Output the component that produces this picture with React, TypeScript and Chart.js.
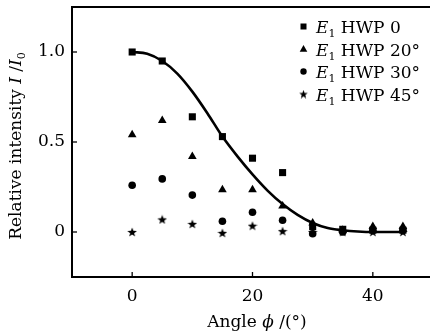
import React, { useEffect, useRef } from 'react';
import { Chart, registerables } from 'chart.js';

Chart.register(...registerables);

// ---- data ----
const angles = [0, 5, 10, 15, 20, 25, 30, 35, 40, 45];
const hwp0 = [1.0, 0.95, 0.64, 0.53, 0.41, 0.33, 0.03, 0.015, 0.01, 0.01];
const hwp20 = [0.54, 0.62, 0.42, 0.235, 0.235, 0.145, 0.05, 0.01, 0.03, 0.03];
const hwp30 = [0.26, 0.295, 0.205, 0.06, 0.11, 0.065, -0.01, 0.0, 0.01, 0.01];
const hwp45 = [0.0, 0.07, 0.045, -0.005, 0.035, 0.005, 0.0, 0.0, 0.0, 0.0];
const fitAngles = [0, 2.5, 5, 7.5, 10, 12.5, 15, 17.5, 20, 22.5, 25, 27.5, 30, 32.5, 35, 37.5, 40, 42.5, 45];
const fitValues = [1.0, 0.99, 0.95, 0.88, 0.78, 0.66, 0.53, 0.42, 0.32, 0.23, 0.155, 0.095, 0.05, 0.022, 0.01, 0.003, 0.0, 0.0, 0.0];
const legendLabels = ['HWP 0', 'HWP 20°', 'HWP 30°', 'HWP 45°'];
const xTicks = [0, 20, 40];
const yTicks = [0, 0.5, 1.0];

const FONT = "'DejaVu Serif'";

function makeStar(size: number) {
  const c = document.createElement('canvas');
  c.width = size;
  c.height = size;
  const ctx = c.getContext('2d')!;
  const cx = size / 2, cy = size / 2 + 0.5;
  const R = size / 2, r = R * 0.42;
  ctx.beginPath();
  for (let i = 0; i < 10; i++) {
    const rad = i % 2 === 0 ? R : r;
    const a = -Math.PI / 2 + (i * Math.PI) / 5;
    const px = cx + rad * Math.cos(a), py = cy + rad * Math.sin(a);
    if (i === 0) ctx.moveTo(px, py); else ctx.lineTo(px, py);
  }
  ctx.closePath();
  ctx.fillStyle = '#000';
  ctx.fill();
  return c;
}

function drawSegments(ctx: CanvasRenderingContext2D, segs: { t: string; f: string; dy?: number }[], x: number, y: number, align: 'left' | 'center') {
  let total = 0;
  for (const s of segs) { ctx.font = s.f; total += ctx.measureText(s.t).width; }
  let cx = align === 'center' ? x - total / 2 : x;
  ctx.textAlign = 'left';
  ctx.textBaseline = 'alphabetic';
  for (const s of segs) {
    ctx.font = s.f;
    ctx.fillText(s.t, cx, y + (s.dy || 0));
    cx += ctx.measureText(s.t).width;
  }
}

export default function App() {
  const ref = useRef<HTMLCanvasElement | null>(null);
  useEffect(() => {
    const canvas = ref.current!;
    const star = makeStar(10);
    const legendStar = makeStar(9);
    const norm = `17px ${FONT}`;
    const ital = `italic 17px ${FONT}`;
    const sub = `11px ${FONT}`;

    const decor = {
      id: 'decor',
      afterDraw(chart: any) {
        const ctx = chart.ctx as CanvasRenderingContext2D;
        const { left, right, top, bottom } = chart.chartArea;
        const xs = chart.scales.x, ys = chart.scales.y;
        ctx.save();
        ctx.strokeStyle = '#000';
        ctx.fillStyle = '#000';
        // top frame line
        ctx.lineWidth = 2;
        ctx.beginPath();
        ctx.moveTo(left - 1, top);
        ctx.lineTo(right + 2, top);
        ctx.stroke();
        // inward ticks
        ctx.lineWidth = 1.3;
        for (const v of xTicks) {
          const px = xs.getPixelForValue(v);
          ctx.beginPath(); ctx.moveTo(px, bottom); ctx.lineTo(px, bottom - 5); ctx.stroke();
        }
        for (const v of yTicks) {
          const py = ys.getPixelForValue(v);
          ctx.beginPath(); ctx.moveTo(left, py); ctx.lineTo(left + 5, py); ctx.stroke();
        }
        // x title
        drawSegments(ctx, [
          { t: 'Angle ', f: norm },
          { t: 'ϕ', f: ital },
          { t: ' /(°)', f: norm },
        ], 257, 326.5, 'center');
        // y title
        ctx.save();
        ctx.translate(20.5, 146);
        ctx.rotate(-Math.PI / 2);
        drawSegments(ctx, [
          { t: 'Relative intensity ', f: norm },
          { t: 'I', f: ital },
          { t: ' /', f: norm },
          { t: 'I', f: ital },
          { t: '0', f: sub, dy: 4 },
        ], 0, 0, 'center');
        ctx.restore();
        // legend
        const baselines = [33, 55.5, 78, 100.5];
        const mx = 303.5, tx = 316;
        baselines.forEach((b, i) => {
          const my = b - 6.5;
          ctx.beginPath();
          if (i === 0) {
            ctx.fillRect(mx - 3, my - 3, 6, 6);
          } else if (i === 1) {
            ctx.moveTo(mx, my - 4); ctx.lineTo(mx + 3.8, my + 2.7); ctx.lineTo(mx - 3.8, my + 2.7); ctx.closePath(); ctx.fill();
          } else if (i === 2) {
            ctx.arc(mx, my, 3.2, 0, Math.PI * 2); ctx.fill();
          } else {
            ctx.drawImage(legendStar, mx - 4.5, my - 4.5);
          }
          drawSegments(ctx, [
            { t: 'E', f: ital },
            { t: '1', f: sub, dy: 4 },
            { t: ' ' + legendLabels[i], f: norm },
          ], tx, b, 'left');
        });
        ctx.restore();
      },
    };

    const pts = (ys: number[]) => angles.map((a, i) => ({ x: a, y: ys[i] }));
    const chart = new Chart(canvas, {
      type: 'scatter',
      data: {
        datasets: [
          {
            label: 'fit',
            data: fitAngles.map((a, i) => ({ x: a, y: fitValues[i] })),
            showLine: true,
            pointRadius: 0,
            borderColor: '#000',
            borderWidth: 2.6,
            cubicInterpolationMode: 'monotone',
          } as any,
          { label: 'E1 HWP 0', data: pts(hwp0), pointStyle: 'rect', pointRadius: 5, backgroundColor: '#000', borderWidth: 0 },
          { label: 'E1 HWP 20°', data: pts(hwp20), pointStyle: 'triangle', pointRadius: 5, backgroundColor: '#000', borderWidth: 0 },
          { label: 'E1 HWP 30°', data: pts(hwp30), pointStyle: 'circle', pointRadius: 3.8, backgroundColor: '#000', borderWidth: 0 },
          { label: 'E1 HWP 45°', data: pts(hwp45), pointStyle: star as any, pointRadius: 5, backgroundColor: '#000', borderWidth: 0 },
        ],
      },
      options: {
        responsive: false,
        animation: false,
        layout: { padding: { top: 7, right: 7, left: 0, bottom: 0 } },
        plugins: { legend: { display: false }, tooltip: { enabled: false } },
        scales: {
          x: {
            type: 'linear',
            min: -10,
            max: 50,
            grid: { display: false, drawTicks: false },
            border: { display: true, color: '#000', width: 2 },
            afterBuildTicks: (s: any) => { s.ticks = xTicks.map((v) => ({ value: v })); },
            afterFit: (s: any) => { s.height = 54; s.paddingLeft = 0; s.paddingRight = 0; },
            ticks: { color: '#000', font: { family: 'DejaVu Serif', size: 17 }, padding: 9, maxRotation: 0, callback: (v: any) => String(v) },
          },
          y: {
            type: 'linear',
            min: -0.25,
            max: 1.25,
            grid: { display: false, drawTicks: false },
            border: { display: true, color: '#000', width: 2 },
            afterBuildTicks: (s: any) => { s.ticks = yTicks.map((v) => ({ value: v })); },
            afterFit: (s: any) => { s.width = 72; s.paddingTop = 0; s.paddingBottom = 0; },
            ticks: { color: '#000', font: { family: 'DejaVu Serif', size: 17 }, padding: 7, callback: (v: any) => (Number(v) === 0 ? '0' : Number(v).toFixed(1)) },
          },
        },
      },
      plugins: [decor],
    });
    return () => chart.destroy();
  }, []);

  return (
    <div style={{ position: 'fixed', left: 0, top: 0, width: 430, height: 331, overflow: 'hidden', background: '#fff' }}>
      <canvas ref={ref} width={440} height={331} style={{ display: 'block', width: 440, height: 331 }} />
    </div>
  );
}
